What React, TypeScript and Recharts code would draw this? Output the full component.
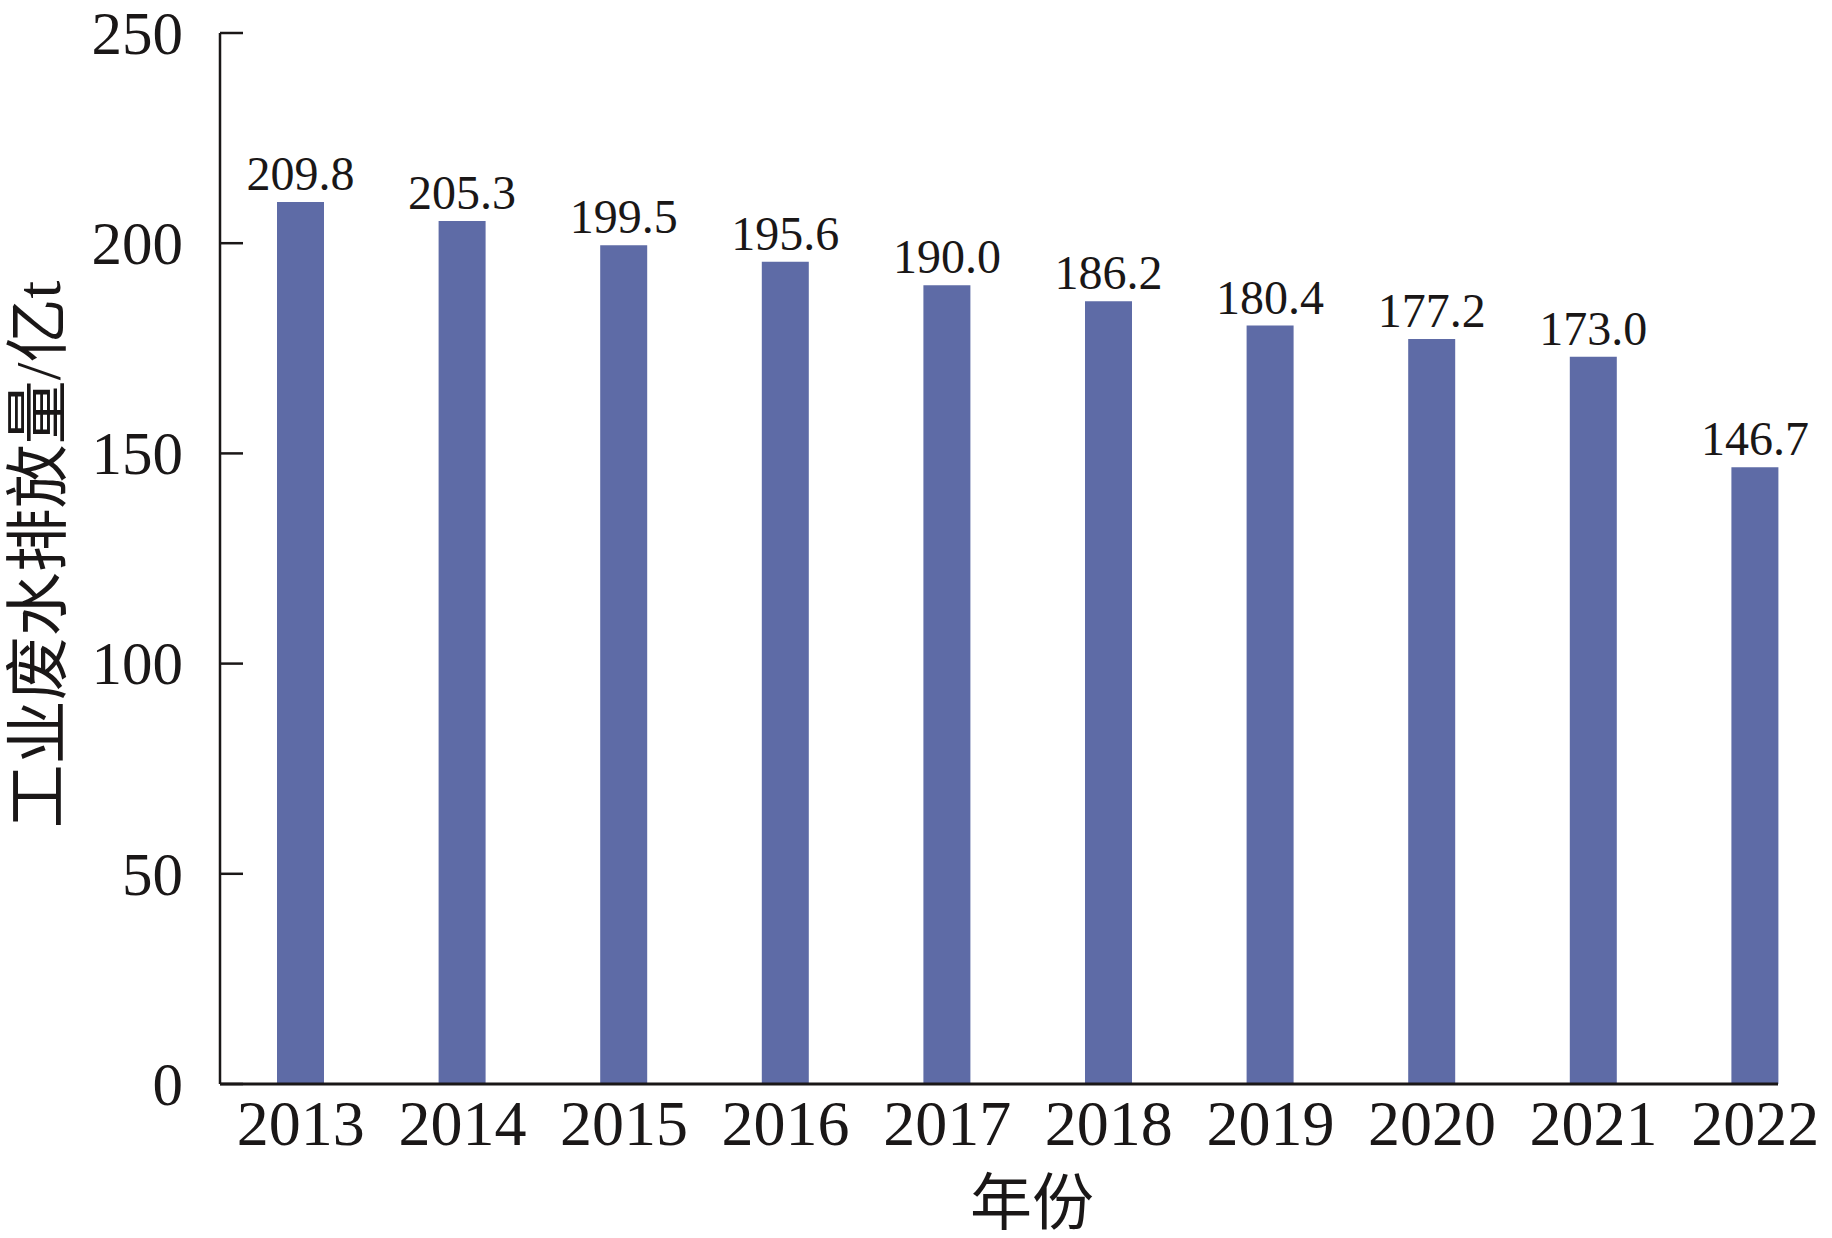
import { BarChart, Bar, XAxis, YAxis, LabelList, Label } from "recharts"

const YEARS = ["2013", "2014", "2015", "2016", "2017", "2018", "2019", "2020", "2021", "2022"]
const DISCHARGE = [209.8, 205.3, 199.5, 195.6, 190.0, 186.2, 180.4, 177.2, 173.0, 146.7]
const Y_TICKS = [0, 50, 100, 150, 200, 250]

const data = YEARS.map((year, i) => ({ year, value: DISCHARGE[i] }))

const FONT = "'Liberation Serif', 'Noto Sans CJK SC', serif"
const INK = "#1a1717"
const BAR = "#5e6ba6"

// y ticks point inward, so draw the tick mark together with the label
function YTick(props: any) {
  const { x, y, payload } = props
  return (
    <g>
      <line x1={x + 37} x2={x + 60} y1={y} y2={y} stroke={INK} strokeWidth={2.5} />
      <text x={x} y={y} dy="0.34em" textAnchor="end" fontFamily={FONT} fontSize={61} fill={INK}>
        {payload.value}
      </text>
    </g>
  )
}

function YTitle(props: any) {
  const { viewBox } = props
  const cy = viewBox.y + viewBox.height / 2 - 4
  return (
    <text
      x={37} y={cy} transform={`rotate(-90 37 ${cy})`} dy="0.36em"
      textAnchor="middle" fontFamily={FONT} fontSize={64} fill={INK}
    >
      工业废水排放量/亿t
    </text>
  )
}

function XTitle() {
  return (
    <text x={1032} y={1203} dy="0.36em" textAnchor="middle" fontFamily={FONT} fontSize={62} fill={INK}>
      年份
    </text>
  )
}

export default function App() {
  return (
    <div style={{ position: "absolute", left: 0, top: 0, width: 1832, height: 1238, background: "#fff" }}>
      <BarChart width={1832} height={1238} data={data} margin={{ top: 33, right: 54, left: 0, bottom: 0 }}>
        <XAxis
          dataKey="year"
          height={154}
          padding={{ left: 0, right: -58 }}
          axisLine={{ stroke: INK, strokeWidth: 3 }}
          tickLine={false}
          tickSize={0}
          tickMargin={16}
          interval={0}
          tick={{ fill: INK, fontSize: 64, fontFamily: FONT }}
        >
          <Label content={XTitle} />
        </XAxis>
        <YAxis
          width={220}
          domain={[0, 250]}
          ticks={Y_TICKS}
          axisLine={{ stroke: INK, strokeWidth: 2.5 }}
          tickLine={false}
          tickSize={0}
          tickMargin={37}
          tick={YTick}
        >
          <Label content={YTitle} />
        </YAxis>
        <Bar dataKey="value" fill={BAR} barSize={47} isAnimationActive={false}>
          <LabelList
            dataKey="value"
            position="top"
            offset={12}
            formatter={(v: any) => Number(v).toFixed(1)}
            style={{ fill: INK, fontSize: 48, fontFamily: FONT }}
          />
        </Bar>
      </BarChart>
    </div>
  )
}
